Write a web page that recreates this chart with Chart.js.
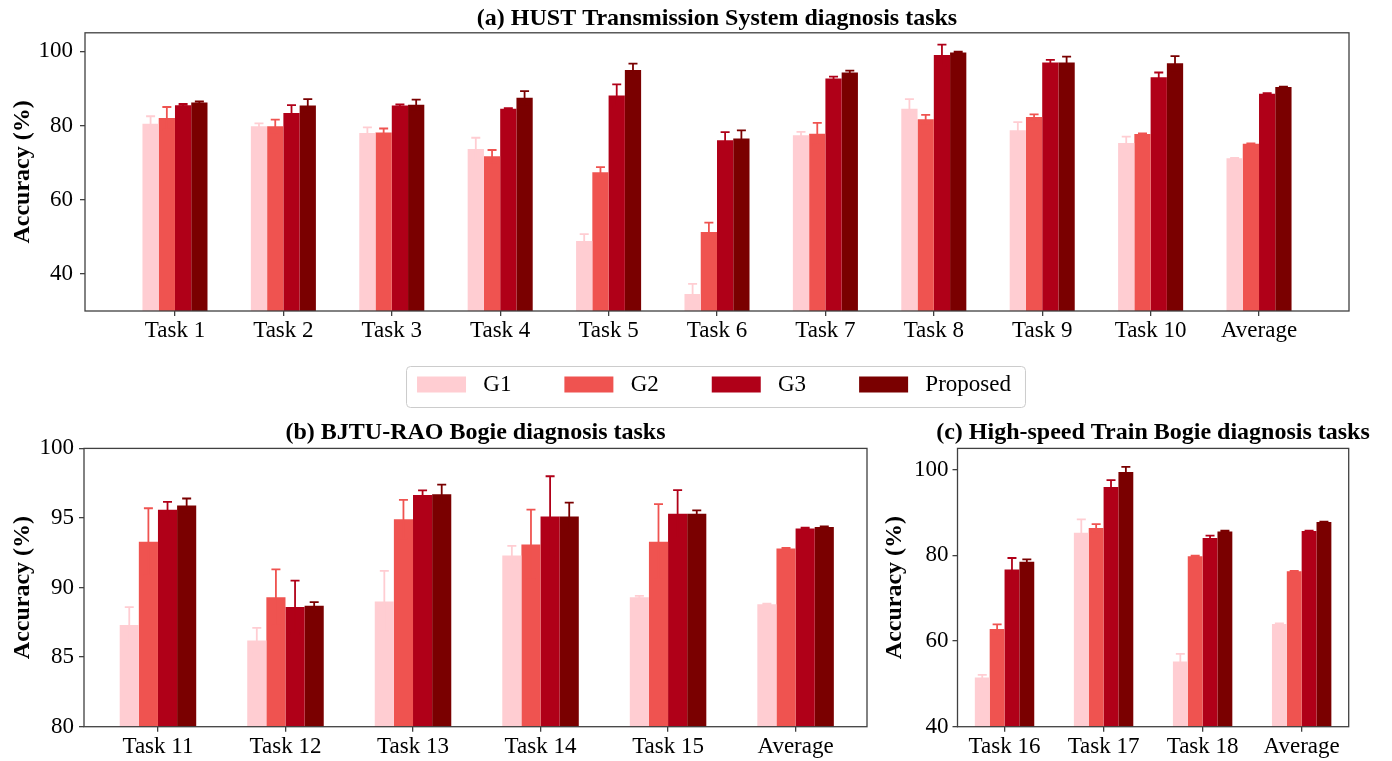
<!DOCTYPE html>
<html>
<head>
<meta charset="utf-8">
<script src="https://cdn.jsdelivr.net/npm/chart.js@4.4.1/dist/chart.umd.min.js"></script>
<style>
  html, body { margin: 0; padding: 0; background: #fff; overflow: hidden; width: 1392px; height: 761px; position: relative; }
  canvas { position: absolute; }
</style>
</head>
<body>
<canvas id="hust" width="1392" height="350" style="left:0;top:0"></canvas>
<canvas id="bjtu" width="880" height="351" style="left:0;top:410px"></canvas>
<canvas id="hst" width="562" height="351" style="left:872px;top:410px"></canvas>
<canvas id="legend" width="1264" height="220" style="left:82px;top:320px"></canvas>
<script>
// Methods compared in every panel
const seriesNames = ['G1', 'G2', 'G3', 'Proposed'];
const seriesColors = ['#FFCDD2', '#EF5350', '#B00018', '#7A0000'];

// (a) HUST transmission system
const hustTasks = ['Task 1', 'Task 2', 'Task 3', 'Task 4', 'Task 5', 'Task 6', 'Task 7', 'Task 8', 'Task 9', 'Task 10', 'Average'];
const hustG1 = [80.5, 79.8, 78.0, 73.7, 48.9, 34.6, 77.4, 84.5, 78.7, 75.3, 71.2];
const hustG1Err = [2.0, 0.8, 1.5, 3.0, 1.8, 2.7, 0.9, 2.6, 2.2, 1.7, 0.1];
const hustG2 = [82.0, 79.8, 78.1, 71.7, 67.4, 51.3, 77.8, 81.7, 82.3, 77.7, 75.1];
const hustG2Err = [3.0, 1.8, 1.1, 1.7, 1.4, 2.5, 2.9, 1.2, 0.7, 0.2, 0.1];
const hustG3 = [85.5, 83.4, 85.4, 84.5, 88.1, 76.0, 92.7, 99.0, 97.0, 93.0, 88.6];
const hustG3Err = [0.3, 2.1, 0.3, 0.2, 3.0, 2.2, 0.5, 2.8, 0.7, 1.3, 0.1];
const hustProp = [86.2, 85.4, 85.6, 87.5, 95.0, 76.5, 94.3, 99.7, 97.0, 96.8, 90.4];
const hustPropErr = [0.3, 1.7, 1.4, 1.8, 1.7, 2.2, 0.5, 0.2, 1.6, 1.9, 0.1];
const hustYTicks = [40, 60, 80, 100];

// (b) BJTU-RAO bogie
const bjtuTasks = ['Task 11', 'Task 12', 'Task 13', 'Task 14', 'Task 15', 'Average'];
const bjtuG1 = [87.3, 86.2, 89.0, 92.3, 89.3, 88.8];
const bjtuG1Err = [1.3, 0.9, 2.2, 0.7, 0.1, 0.05];
const bjtuG2 = [93.3, 89.3, 94.9, 93.1, 93.3, 92.8];
const bjtuG2Err = [2.4, 2.0, 1.4, 2.5, 2.7, 0.05];
const bjtuG3 = [95.6, 88.6, 96.65, 95.1, 95.3, 94.25];
const bjtuG3Err = [0.55, 1.9, 0.33, 2.9, 1.7, 0.05];
const bjtuProp = [95.9, 88.7, 96.7, 95.1, 95.3, 94.35];
const bjtuPropErr = [0.5, 0.25, 0.7, 1.0, 0.25, 0.05];
const bjtuYTicks = [80, 85, 90, 95, 100];

// (c) High-speed train bogie
const hstTasks = ['Task 16', 'Task 17', 'Task 18', 'Average'];
const hstG1 = [51.5, 85.3, 55.2, 64.0];
const hstG1Err = [0.6, 3.1, 1.8, 0.1];
const hstG2 = [62.8, 86.4, 79.8, 76.3];
const hstG2Err = [1.1, 0.9, 0.15, 0.1];
const hstG3 = [76.7, 96.0, 84.1, 85.7];
const hstG3Err = [2.7, 1.6, 0.55, 0.1];
const hstProp = [78.5, 99.5, 85.6, 87.8];
const hstPropErr = [0.6, 1.2, 0.2, 0.1];
const hstYTicks = [40, 60, 80, 100];

const serif = "'Liberation Serif', 'Times New Roman', serif";
const axisColor = '#404040';

// Upper/lower error whiskers with caps, in the colour of their bar
const errorBarPlugin = {
  id: 'errorBars',
  afterDatasetsDraw(chart) {
    const { ctx, chartArea: area } = chart;
    const yScale = chart.scales.y;
    ctx.save();
    ctx.beginPath();
    ctx.rect(area.left, area.top, area.right - area.left, area.bottom - area.top);
    ctx.clip();
    chart.data.datasets.forEach((ds, i) => {
      const meta = chart.getDatasetMeta(i);
      ctx.strokeStyle = ds.backgroundColor;
      ctx.lineWidth = 1.8;
      meta.data.forEach((bar, j) => {
        const err = ds.errors[j];
        if (!err) return;
        const v = ds.data[j].y;
        const yHi = yScale.getPixelForValue(v + err);
        const yLo = yScale.getPixelForValue(v - err);
        const x = bar.x;
        const cap = 4.5;
        ctx.beginPath();
        ctx.moveTo(x, yLo); ctx.lineTo(x, yHi);
        ctx.moveTo(x - cap, yHi); ctx.lineTo(x + cap, yHi);
        ctx.moveTo(x - cap, yLo); ctx.lineTo(x + cap, yLo);
        ctx.stroke();
      });
    });
    ctx.restore();
  }
};

// Box around the plotting area
const framePlugin = {
  id: 'frame',
  afterDatasetsDraw(chart) {
    const { ctx, chartArea: a } = chart;
    ctx.save();
    ctx.strokeStyle = axisColor;
    ctx.lineWidth = 1.3;
    ctx.strokeRect(a.left, a.top, a.right - a.left, a.bottom - a.top);
    ctx.restore();
  }
};

function buildDatasets(values, errors) {
  return values.map((vals, k) => ({
    label: seriesNames[k],
    data: vals.map((v, i) => ({ x: i, y: v })),
    errors: errors[k],
    backgroundColor: seriesColors[k],
    borderWidth: 0,
    categoryPercentage: 0.6,
    barPercentage: 1.0
  }));
}

function panel(canvasId, cfg) {
  const scales = {
    x: {
      type: 'linear',
      offset: false,
      min: cfg.xMin,
      max: cfg.xMax,
      afterBuildTicks: s => { s.ticks = cfg.labels.map((_, i) => ({ value: i })); },
      afterFit: s => { s.height = cfg.xAxisHeight; },
      ticks: {
        autoSkip: false, maxRotation: 0, minRotation: 0, padding: 1,
        color: '#000', font: { family: serif, size: 23 },
        callback: (v, i) => cfg.labels[i]
      },
      grid: { display: true, drawOnChartArea: false, drawTicks: true, tickLength: 5, color: axisColor, lineWidth: 1.3, offset: false },
      border: { display: false }
    },
    y: {
      type: 'linear',
      min: cfg.yMin,
      max: cfg.yMax,
      afterBuildTicks: s => { s.ticks = cfg.yTicks.map(v => ({ value: v })); },
      afterFit: s => { s.width = cfg.yAxisWidth; },
      ticks: { padding: cfg.yTickPad, color: '#000', font: { family: serif, size: 23 } },
      grid: { display: true, drawOnChartArea: false, drawTicks: true, tickLength: 5, color: axisColor, lineWidth: 1.3 },
      border: { display: false },
      title: {
        display: true, text: 'Accuracy (%)', color: '#000',
        font: { family: serif, size: 24, weight: 'bold' },
        padding: { top: 8, bottom: 0 }
      }
    }
  };
  if (cfg.rightGap) {
    // empty right-hand axis reserving space beside the plot
    scales.yRight = {
      type: 'linear', position: 'right', display: true,
      grid: { display: false, drawTicks: false },
      border: { display: false },
      ticks: { display: false },
      afterFit: s => { s.width = cfg.rightGap; }
    };
  }
  return new Chart(document.getElementById(canvasId), {
    type: 'bar',
    data: { datasets: buildDatasets(cfg.values, cfg.errors) },
    options: {
      responsive: false,
      animation: false,
      devicePixelRatio: 1,
      layout: { padding: cfg.padding },
      plugins: {
        legend: { display: false },
        tooltip: { enabled: false },
        title: {
          display: true, text: cfg.title, fullSize: cfg.titleFullSize, color: '#000',
          font: { family: serif, size: 24, weight: 'bold' },
          padding: cfg.titlePadding
        }
      },
      scales
    },
    plugins: [errorBarPlugin, framePlugin]
  });
}

panel('hust', {
  title: '(a) HUST Transmission System diagnosis tasks',
  labels: hustTasks,
  values: [hustG1, hustG2, hustG3, hustProp],
  errors: [hustG1Err, hustG2Err, hustG3Err, hustPropErr],
  yTicks: hustYTicks, yMin: 30, yMax: 105,
  xMin: -0.83, xMax: 10.83,
  yAxisWidth: 85, xAxisHeight: 39, yTickPad: 7,
  padding: { left: 0, right: 43, top: 0, bottom: 0 },
  titleFullSize: false, titlePadding: { top: 4, bottom: 0 }
});

panel('bjtu', {
  title: '(b) BJTU-RAO Bogie diagnosis tasks',
  labels: bjtuTasks,
  values: [bjtuG1, bjtuG2, bjtuG3, bjtuProp],
  errors: [bjtuG1Err, bjtuG2Err, bjtuG3Err, bjtuPropErr],
  yTicks: bjtuYTicks, yMin: 80, yMax: 100,
  xMin: -0.58, xMax: 5.56,
  yAxisWidth: 84, xAxisHeight: 34.3, yTickPad: 5,
  padding: { left: 0, right: 13, top: 0, bottom: 0 },
  titleFullSize: false, titlePadding: { top: 8.6, bottom: 1 }
});

panel('hst', {
  title: '(c) High-speed Train Bogie diagnosis tasks',
  labels: hstTasks,
  values: [hstG1, hstG2, hstG3, hstProp],
  errors: [hstG1Err, hstG2Err, hstG3Err, hstPropErr],
  yTicks: hstYTicks, yMin: 40, yMax: 105,
  xMin: -0.475, xMax: 3.475,
  yAxisWidth: 85.5, xAxisHeight: 34.3, yTickPad: 4,
  rightGap: 85.3,
  padding: { left: 0, right: 0, top: 0, bottom: 0 },
  titleFullSize: true, titlePadding: { top: 8.6, bottom: 1 }
});

// Shared legend with a light rounded frame
const legendFramePlugin = {
  id: 'legendFrame',
  afterDraw(chart) {
    const boxes = chart.legend.legendHitBoxes;
    if (!boxes || !boxes.length) return;
    const first = boxes[0], last = boxes[boxes.length - 1];
    const left = first.left - 10.5, right = last.left + last.width + 14.5;
    const top = first.top - 6.5, bottom = first.top + first.height + 11.5;
    const { ctx } = chart;
    ctx.save();
    ctx.strokeStyle = '#cccccc';
    ctx.lineWidth = 1;
    ctx.beginPath();
    ctx.roundRect(left, top, right - left, bottom - top, 4);
    ctx.stroke();
    ctx.restore();
  }
};

new Chart(document.getElementById('legend'), {
  type: 'bar',
  data: {
    datasets: seriesNames.map((name, k) => ({ label: name, data: [], backgroundColor: seriesColors[k], borderWidth: 0 }))
  },
  options: {
    responsive: false,
    animation: false,
    devicePixelRatio: 1,
    layout: { padding: 0 },
    scales: { x: { display: false }, y: { display: false } },
    plugins: {
      tooltip: { enabled: false },
      title: { display: false },
      legend: {
        display: true,
        position: 'top',
        align: 'center',
        maxHeight: 120,
        onClick: null,
        labels: {
          boxWidth: 49,
          boxHeight: 16,
          padding: 53,
          color: '#000',
          font: { family: serif, size: 23 },
          generateLabels: chart => chart.data.datasets.map((ds, i) => ({
            text: ' ' + ds.label,
            fillStyle: ds.backgroundColor,
            strokeStyle: ds.backgroundColor,
            lineWidth: 0,
            hidden: false,
            datasetIndex: i
          }))
        }
      }
    }
  },
  plugins: [legendFramePlugin]
});
</script>
</body>
</html>
